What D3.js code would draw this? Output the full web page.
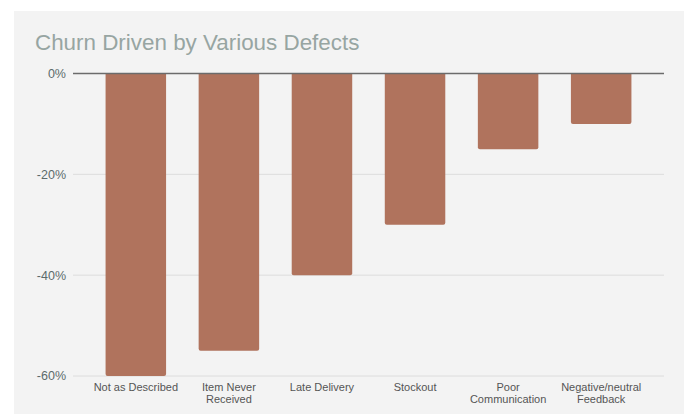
<!DOCTYPE html>
<html>
<head>
<meta charset="utf-8">
<script src="https://cdn.jsdelivr.net/npm/d3@7"></script>
<style>
  body { margin: 0; background: #fff; }
  svg { display: block; font-family: "Liberation Sans", Arial, sans-serif; }
</style>
</head>
<body>
<div id="chart"></div>
<script>
// data
const categories = ["Not as Described", "Item Never Received", "Late Delivery", "Stockout", "Poor Communication", "Negative/neutral Feedback"];
const labelLines = [["Not as Described"], ["Item Never", "Received"], ["Late Delivery"], ["Stockout"], ["Poor", "Communication"], ["Negative/neutral", "Feedback"]];
const churn = [-60, -55, -40, -30, -15, -10];
const yTicks = [0, -20, -40, -60];

const W = 689, H = 414;
const svg = d3.select("#chart").append("svg")
    .attr("width", W)
    .attr("height", H);

// grey card behind the chart
svg.append("rect")
    .attr("x", 14).attr("y", 11)
    .attr("width", 670).attr("height", 403)
    .attr("fill", "#f3f3f3");

svg.append("text")
    .attr("x", 35).attr("y", 49.5)
    .attr("font-size", 22.4)
    .attr("fill", "#97a5a2")
    .text("Churn Driven by Various Defects");

const x = d3.scaleBand()
    .domain(categories)
    .range([73, 664])
    .padding(0.35);

const y = d3.scaleLinear()
    .domain([0, -60])
    .range([73.5, 376]);

// gridlines
svg.append("g")
    .selectAll("line")
    .data(yTicks.filter(d => d !== 0))
    .join("line")
    .attr("x1", 73).attr("x2", 664)
    .attr("y1", d => y(d)).attr("y2", d => y(d))
    .attr("stroke", "#dcdcdc")
    .attr("stroke-width", 1);

// y tick labels
svg.append("g")
    .selectAll("text")
    .data(yTicks)
    .join("text")
    .attr("x", 66)
    .attr("y", d => y(d))
    .attr("dy", "0.35em")
    .attr("text-anchor", "end")
    .attr("font-size", 12.5)
    .attr("fill", "#5c6b6b")
    .text(d => d + "%");

// bars, slightly rounded at the bottom
const r = 2;
svg.append("g")
    .selectAll("path")
    .data(churn)
    .join("path")
    .attr("d", (d, i) => {
        const x0 = x(categories[i]), w = x.bandwidth();
        const y0 = y(0), y1 = y(d);
        return `M${x0},${y0}H${x0 + w}V${y1 - r}Q${x0 + w},${y1} ${x0 + w - r},${y1}H${x0 + r}Q${x0},${y1} ${x0},${y1 - r}Z`;
    })
    .attr("fill", "#b0735d");

// zero line
svg.append("line")
    .attr("x1", 73).attr("x2", 664)
    .attr("y1", y(0)).attr("y2", y(0))
    .attr("stroke", "#6b6b6b")
    .attr("stroke-width", 1.5);

// x labels
const lab = svg.append("g")
    .selectAll("text")
    .data(categories)
    .join("text")
    .attr("text-anchor", "middle")
    .attr("font-size", 11)
    .attr("fill", "#555")
    .attr("transform", d => `translate(${x(d) + x.bandwidth() / 2},391)`);

lab.selectAll("tspan")
    .data((d, i) => labelLines[i])
    .join("tspan")
    .attr("x", 0)
    .attr("y", (d, j) => j * 11.7)
    .text(d => d);
</script>
</body>
</html>
